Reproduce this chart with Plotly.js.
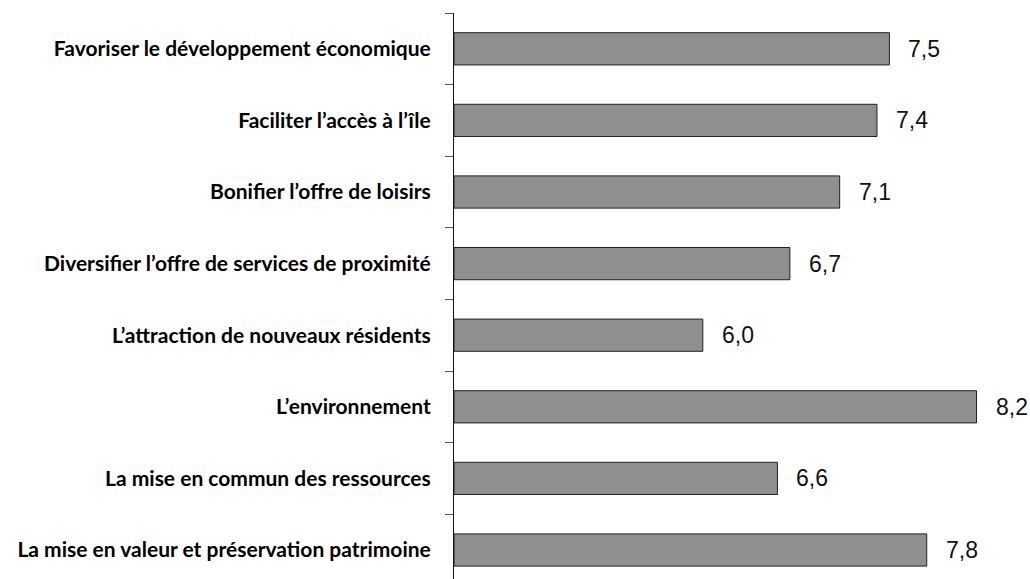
<!DOCTYPE html>
<html>
<head>
<meta charset="utf-8">
<script src="https://cdn.plot.ly/plotly-3.0.1.min.js"></script>
<style>
  html, body { margin: 0; padding: 0; background: #fff; }
  #chart { width: 1030px; height: 579px; }
</style>
</head>
<body>
<div id="chart"></div>
<script>
// categories, top to bottom
var categories = [
  'Favoriser le développement économique',
  'Faciliter l’accès à l’île',
  'Bonifier l’offre de loisirs',
  'Diversifier l’offre de services de proximité',
  'L’attraction de nouveaux résidents',
  'L’environnement',
  'La mise en commun des ressources',
  'La mise en valeur et préservation patrimoine'
];
var scores = [7.5, 7.4, 7.1, 6.7, 6.0, 8.2, 6.6, 7.8];
var scoreLabels = ['7,5', '7,4', '7,1', '6,7', '6,0', '8,2', '6,6', '7,8'];

// axis starts at 4, bars drawn from there
var axisStart = 4;

var trace = {
  type: 'bar',
  orientation: 'h',
  x: scores.map(function (v) { return v - axisStart; }),
  y: categories,
  base: axisStart,
  width: 0.45,
  marker: { color: '#8f8f8f', line: { color: '#222', width: 1 } },
  hoverinfo: 'x+y'
};

// value labels next to each bar end
var notes = categories.map(function (c, i) {
  return {
    x: scores[i], y: c, xref: 'x', yref: 'y',
    text: scoreLabels[i], showarrow: false,
    xanchor: 'left', xshift: 17,
    font: { family: 'Liberation Sans, Arial, sans-serif', size: 23, color: '#111' }
  };
});

var layout = {
  width: 1030,
  height: 579,
  margin: { l: 454, r: 0, t: 13, b: 0 },
  paper_bgcolor: '#fff',
  plot_bgcolor: '#fff',
  showlegend: false,
  xaxis: {
    range: [axisStart, 8.63],
    visible: false
  },
  yaxis: {
    type: 'category',
    categoryorder: 'array',
    categoryarray: categories,
    range: [7.405, -0.5],
    showline: true,
    linecolor: '#111',
    linewidth: 1,
    ticks: 'outside',
    tickson: 'boundaries',
    ticklen: 8,
    tickcolor: '#555',
    ticklabelstandoff: 18,
    showgrid: false,
    zeroline: false,
    tickfont: { family: 'Lato, Open Sans, sans-serif', size: 21, color: '#000', weight: 'bold' }
  },
  annotations: notes
};

Plotly.newPlot('chart', [trace], layout, { displayModeBar: false, staticPlot: true });
</script>
</body>
</html>
